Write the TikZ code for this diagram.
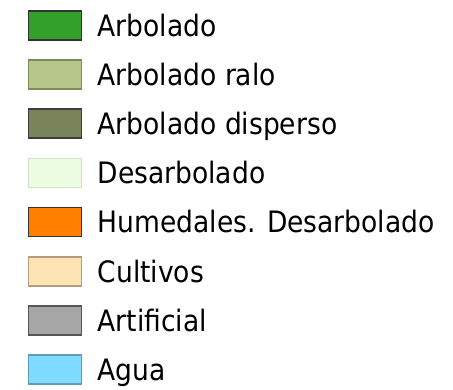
\documentclass[tikz,border=0pt]{standalone}
\usepackage{fontspec}
\setmainfont[FakeStretch=0.9]{DejaVu Sans}
\definecolor{c1f}{HTML}{33A02C}\definecolor{c1d}{HTML}{333333}
\definecolor{c2f}{HTML}{B7C68B}\definecolor{c2d}{HTML}{7C8A5C}
\definecolor{c3f}{HTML}{7A845A}\definecolor{c3d}{HTML}{3D3D3D}
\definecolor{c4f}{HTML}{EBFCE0}\definecolor{c4d}{HTML}{CFE3C4}
\definecolor{c5f}{HTML}{FF8000}\definecolor{c5d}{HTML}{333333}
\definecolor{c6f}{HTML}{FDE4B5}\definecolor{c6d}{HTML}{B49C7C}
\definecolor{c7f}{HTML}{A6A6A6}\definecolor{c7d}{HTML}{555555}
\definecolor{c8f}{HTML}{7FDBFF}\definecolor{c8d}{HTML}{5D9DB5}
\begin{document}
\begin{tikzpicture}[x=1pt,y=-1pt,
  swatch/.style={draw, line width=1.6pt, minimum width=53pt, minimum height=29pt, inner sep=0pt},
  label/.style={anchor=base west, inner sep=0pt, font=\fontsize{29.5}{30}\selectfont}]
\useasboundingbox (0,0) rectangle (453,389);
\foreach \i/\t in {1/Arbolado, 2/Arbolado ralo, 3/Arbolado disperso, 4/Desarbolado, 5/Humedales. Desarbolado, 6/Cultivos, 7/Artificial, 8/Agua}{
  \pgfmathsetmacro{\cy}{25.5+49.14*(\i-1)}
  \node[swatch, fill=c\i f, draw=c\i d] (s\i) at (54.8,\cy) {};
  \node[label] (t\i) at (97.5,\cy+10.8) {\t};
}
\end{tikzpicture}
\end{document}
